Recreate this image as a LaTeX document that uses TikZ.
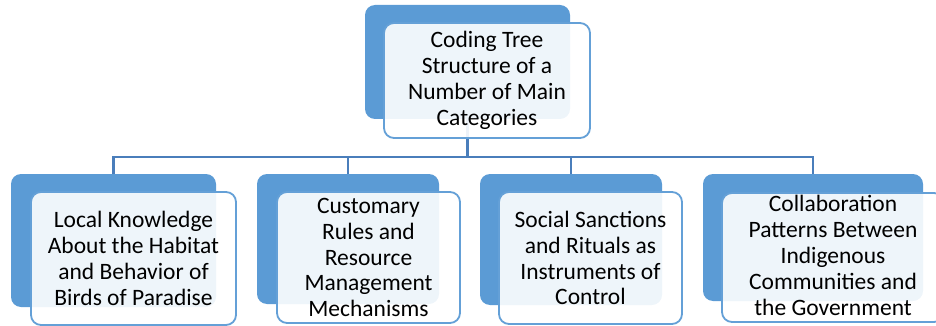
\documentclass[tikz,border=0pt]{standalone}
\usepackage{fontspec}
\setmainfont{Carlito}
\definecolor{backblue}{RGB}{91,155,213}
\definecolor{linkblue}{RGB}{74,126,187}
\definecolor{edgeblue}{RGB}{100,160,215}
\begin{document}
\begin{tikzpicture}[x=1pt,y=-1pt,
  backbox/.style={fill=backblue, draw=none, rounded corners=10pt, inner sep=0pt, outer sep=0pt, anchor=north west},
  frontbox/.style={draw=edgeblue, line width=1.8pt, fill=white, fill opacity=0.9, rounded corners=10pt, inner sep=0pt, outer sep=0pt, anchor=north west},
  catlabel/.style={font=\fontsize{23.5}{25.9}\selectfont, align=center, text=black, inner sep=0pt},
  link/.style={draw=linkblue, line width=2.2pt}]
\clip (0,0) rectangle (936,326);
% back boxes
\node[backbox, minimum width=205pt, minimum height=114pt] (tb) at (365,5) {};
\node[backbox, minimum width=205pt, minimum height=133pt] (c1b) at (11,174) {};
\node[backbox, minimum width=182pt, minimum height=130pt] (c2b) at (257,174) {};
\node[backbox, minimum width=182pt, minimum height=131pt] (c3b) at (480,174) {};
\node[backbox, minimum width=220pt, minimum height=127pt] (c4b) at (703,174) {};
% connectors
\coordinate (busy) at (0,157);
\coordinate (hub) at (tb.south |- busy);
\draw[link] (tb.south) -- (hub);
\draw[link] (hub) -| (c1b.north);
\draw[link] (hub) -| (c2b.north);
\draw[link] (hub) -| (c3b.north);
\draw[link] (hub) -| (c4b.north);
% front boxes
\node[frontbox, minimum width=206pt, minimum height=115pt] (tf) at (384,23) {};
\node[frontbox, minimum width=205pt, minimum height=133pt] (c1f) at (31,192) {};
\node[frontbox, minimum width=183pt, minimum height=131pt] (c2f) at (277,192) {};
\node[frontbox, minimum width=183pt, minimum height=132pt] (c3f) at (499,192) {};
\node[frontbox, minimum width=222pt, minimum height=129pt] (c4f) at (722,193) {};
% labels
\node[catlabel] (tt) at (tf.center) {Coding Tree\\Structure of a\\Number of Main\\Categories};
\node[catlabel] (c1t) at (c1f.center) {Local Knowledge\\About the Habitat\\and Behavior of\\Birds of Paradise};
\node[catlabel] (c2t) at (c2f.center) {Customary\\Rules and\\Resource\\Management\\Mechanisms};
\node[catlabel] (c3t) at (c3f.center) {Social Sanctions\\and Rituals as\\Instruments of\\Control};
\node[catlabel, yshift=2pt] (c4t) at (c4f.center) {Collaboration\\Patterns Between\\Indigenous\\Communities and\\the Government};
\end{tikzpicture}
\end{document}
